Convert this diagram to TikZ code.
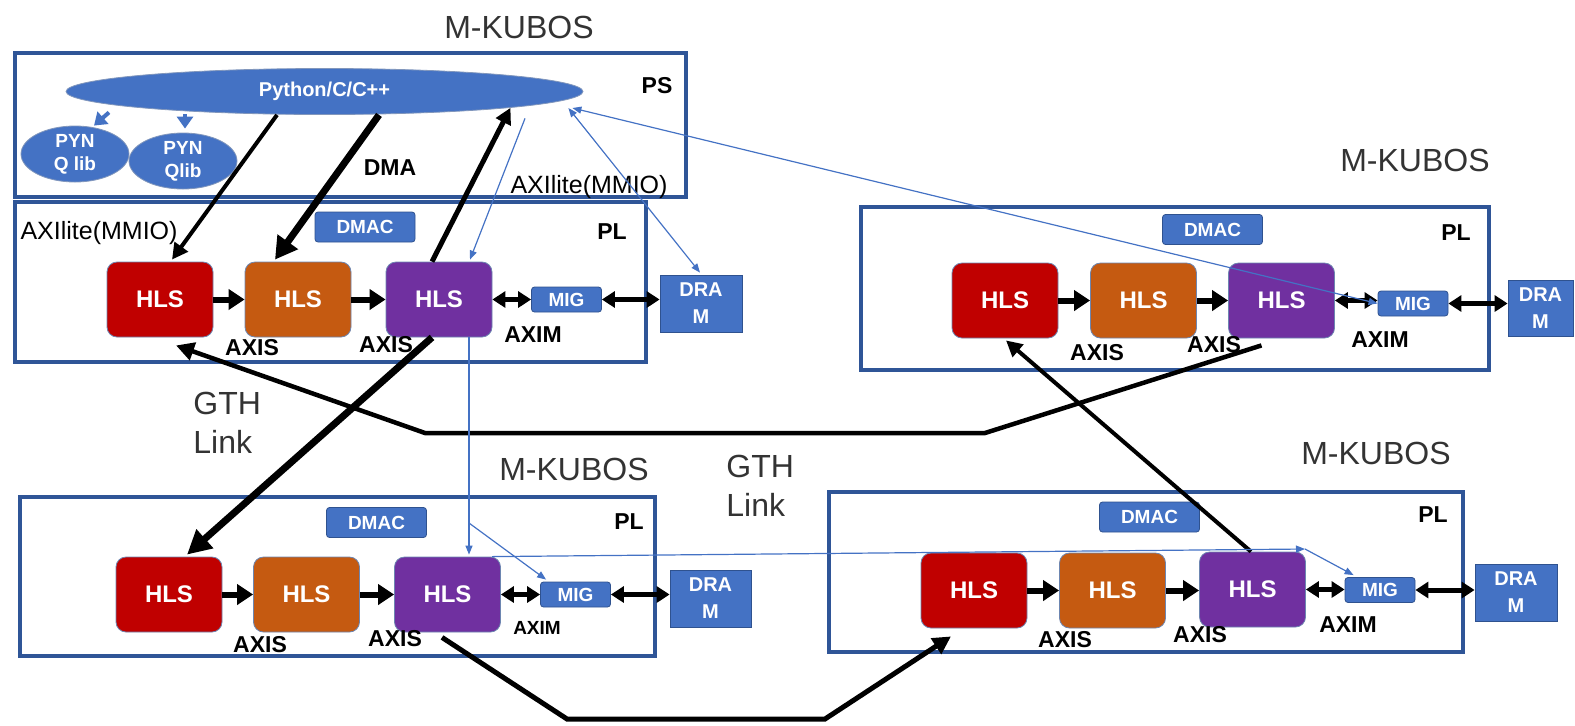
\documentclass[tikz,border=0pt]{standalone}
\usepackage{fontspec}
\setmainfont{Liberation Sans}
\usetikzlibrary{arrows.meta,shapes.geometric}

\definecolor{frameblue}{HTML}{2F5597}
\definecolor{pblue}{HTML}{4472C4}
\definecolor{edgeblue}{HTML}{2F528F}
\definecolor{hlsred}{HTML}{C00000}
\definecolor{hlsorange}{HTML}{C55A11}
\definecolor{hlspurple}{HTML}{7030A0}
\definecolor{titlegray}{HTML}{333333}

\newcommand{\fs}[1]{\fontsize{#1}{#1}\selectfont}

\tikzset{
  frame/.style={draw=frameblue, line width=1.6pt},
  hls/.style={rounded corners=5pt, draw=edgeblue!70, line width=0.4pt,
    minimum width=53pt, minimum height=37.5pt, inner sep=0pt,
    text=white, font=\bfseries\fs{12}},
  blk/.style={fill=pblue, draw=edgeblue, line width=0.4pt, rounded corners=1.5pt,
    inner sep=0pt, text=white, font=\bfseries\fs{9.5}},
  dmacbox/.style={blk, minimum width=50pt, minimum height=15pt},
  migbox/.style={blk, minimum width=35pt, minimum height=12.5pt},
  drambox/.style={blk, rounded corners=0pt, align=center, font=\bfseries\linespread{1.35}\fs{10}},
  lbl/.style={font=\bfseries\fs{11.5}, inner sep=0pt},
  mlbl/.style={font=\fs{12.5}, inner sep=0pt},
  title/.style={font=\fs{16}, text=titlegray, inner sep=0pt},
  chain/.style={line width=3pt, -{Triangle[length=8pt,width=10pt]}},
  dbl/.style={line width=2.5pt, {Triangle[length=6.5pt,width=8pt]}-{Triangle[length=6.5pt,width=8pt]}},
  thinblue/.style={draw=pblue, line width=0.6pt, -{Triangle[length=4.5pt,width=3.5pt]}},
  thinbluedbl/.style={draw=pblue, line width=0.6pt,
    {Triangle[length=4.5pt,width=3.5pt]}-{Triangle[length=4.5pt,width=3.5pt]}},
  pyarrow/.style={draw=pblue, line width=2pt, -{Triangle[length=6pt,width=8pt]}},
  lib/.style={ellipse, fill=pblue, draw=edgeblue!60, line width=0.4pt, inner sep=0pt,
    minimum width=54pt, minimum height=26pt, text=white, align=center,
    font=\bfseries\linespread{1.2}\fs{9.5}},
}

\begin{document}
\begin{tikzpicture}[x=0.5pt, y=-0.5pt]
\useasboundingbox (0,0) rectangle (1575,725);

% ---------- node 1: PS + PL ----------
\node[title] (t1) at (519,27) {M-KUBOS};
\draw[frame] (15,53) rectangle (686,197);
\draw[frame] (15,202) rectangle (646,362);

\node[ellipse, fill=pblue, draw=edgeblue!60, line width=0.4pt, inner sep=0pt,
      minimum width=258.5pt, minimum height=23pt, text=white, font=\bfseries\fs{10}]
      (py) at (324.5,91.5) {Python/C/C++};
\node[lib] (pq1) at (75,154) {PYN\\Q lib};
\node[lib] (pq2) at (183,161) {PYN\\Qlib};

\node[lbl] (ps) at (657,86) {PS};
\node[lbl] (dma) at (390,168) {DMA};
\node[mlbl] (axl1) at (589,187) {AXIlite(MMIO)};
\node[mlbl] (axl2) at (99,233) {AXIlite(MMIO)};
\node[lbl] (pl1) at (612,232) {PL};

\node[dmacbox] (dmac1) at (365,227) {DMAC};
\node[hls, fill=hlsred] (r1) at (160,299.5) {HLS};
\node[hls, fill=hlsorange] (o1) at (298,299.5) {HLS};
\node[hls, fill=hlspurple] (p1) at (439,299.5) {HLS};
\node[migbox] (m1) at (566.5,299.5) {MIG};
\node[drambox, minimum width=41pt, minimum height=28.5pt] (d1) at (701,303.5) {DRA\\M};
\node[lbl] (ax1a) at (252,348) {AXIS};
\node[lbl] (ax1b) at (386,345) {AXIS};
\node[lbl] (am1) at (533,335) {AXIM};

% ---------- node 2 ----------
\node[title] (t2) at (1415,160) {M-KUBOS};
\draw[frame] (861,207) rectangle (1489,370);
\node[dmacbox] (dmac2) at (1212.5,229.5) {DMAC};
\node[lbl] (pl2) at (1456,233) {PL};
\node[hls, fill=hlsred] (r2) at (1005,300.5) {HLS};
\node[hls, fill=hlsorange] (o2) at (1143.5,300.5) {HLS};
\node[hls, fill=hlspurple] (p2) at (1281.5,300.5) {HLS};
\node[migbox] (m2) at (1413,303.5) {MIG};
\node[drambox, minimum width=32.5pt, minimum height=28pt] (d2) at (1540.5,308) {DRA\\M};
\node[lbl] (ax2a) at (1097,353) {AXIS};
\node[lbl] (ax2b) at (1214,345) {AXIS};
\node[lbl] (am2) at (1380,340) {AXIM};

% ---------- node 3 ----------
\node[title] (t3) at (574,469) {M-KUBOS};
\draw[frame] (20,497) rectangle (655,656);
\node[dmacbox] (dmac3) at (376.5,522.5) {DMAC};
\node[lbl] (pl3) at (629,522) {PL};
\node[hls, fill=hlsred] (r3) at (169,594.5) {HLS};
\node[hls, fill=hlsorange] (o3) at (306.5,594.5) {HLS};
\node[hls, fill=hlspurple] (p3) at (447.5,594.5) {HLS};
\node[migbox] (m3) at (575.5,594.5) {MIG};
\node[drambox, minimum width=40.5pt, minimum height=28.5pt] (d3) at (710.5,598.5) {DRA\\M};
\node[lbl] (ax3a) at (260,645) {AXIS};
\node[lbl] (ax3b) at (395,639) {AXIS};
\node[lbl, font=\bfseries\fs{9.5}] (am3) at (537,628) {AXIM};

% ---------- node 4 ----------
\node[title] (t4) at (1376,453) {M-KUBOS};
\draw[frame] (829,492) rectangle (1463,652);
\node[dmacbox] (dmac4) at (1149.5,517) {DMAC};
\node[lbl] (pl4) at (1433,515) {PL};
\node[hls, fill=hlsred] (r4) at (974,590.5) {HLS};
\node[hls, fill=hlsorange] (o4) at (1112.5,590.5) {HLS};
\node[hls, fill=hlspurple] (p4) at (1252.5,589.5) {HLS};
\node[migbox] (m4) at (1380,590) {MIG};
\node[drambox, minimum width=41pt, minimum height=28.5pt] (d4) at (1516,592.5) {DRA\\M};
\node[lbl] (ax4a) at (1065,640) {AXIS};
\node[lbl] (ax4b) at (1200,635) {AXIS};
\node[lbl] (am4) at (1348,625) {AXIM};

% ---------- link labels ----------
\node[title, anchor=west, align=left, font=\linespread{1.2}\fs{16}] (gth1) at (193,423) {GTH\\Link};
\node[title, anchor=west, align=left, font=\linespread{1.2}\fs{16}] (gth2) at (726,486) {GTH\\Link};

% ---------- streaming chains ----------
\foreach \a/\b in {r1/o1,o1/p1,r2/o2,o2/p2,r3/o3,o3/p3,r4/o4,o4/p4}
  \draw[chain] (\a.east) -- (\a.east -| \b.west);
\foreach \a/\b in {p1/m1,m1/d1,p2/m2,m2/d2,p3/m3,m3/d3,p4/m4,m4/d4}
  \draw[dbl] (\a.east) -- (\a.east -| \b.west);

% ---------- PS side ----------
\draw[pyarrow] ([xshift=-107.75pt,yshift=1.25pt]py.south) -- ([xshift=9.5pt]pq1.north);
\draw[pyarrow] ([xshift=-69.75pt,yshift=0.25pt]py.south) -- ([xshift=1pt,yshift=2pt]pq2.north);

\draw[line width=2pt, -{Triangle[length=8pt,width=8pt]}]
  ([xshift=-23.75pt]py.south) -- ([xshift=6pt,yshift=1pt]r1.north);
\draw[line width=3.5pt, -{Triangle[length=11pt,width=12pt]}]
  ([xshift=27.25pt]py.south) -- ([xshift=-11.5pt,yshift=1pt]o1.north);
\draw[line width=2.5pt, -{Triangle[length=8pt,width=8pt]}]
  ([xshift=-3.5pt]p1.north) -- (py.-5.9);
\draw[thinblue] ([xshift=100.25pt,yshift=-1.75pt]py.south) -- ([xshift=15.5pt,yshift=1pt]p1.north);
\draw[thinbluedbl] ([xshift=-7.5pt,yshift=-8.25pt]py.east) -- ([xshift=-0.5pt,yshift=1pt]d1.north);
\draw[thinbluedbl] ([xshift=-5.5pt,yshift=-8.25pt]py.east) -- (m2.west);

% ---------- GTH links ----------
\coordinate (c2a) at (985,433);
\coordinate (c2b) at (425,433);
\coordinate (c3a) at (567,719);
\coordinate (c3b) at (825,719);

\draw[line width=3.5pt, -{Triangle[length=12pt,width=12pt]}]
  ([xshift=-3.5pt]p1.south) -- ([xshift=9pt,yshift=1pt]r3.north);
\draw[line width=2.25pt, -{Triangle[length=9pt,width=9pt]}]
  ([xshift=-10pt,yshift=-3.5pt]p2.south) -- (c2a) -- (c2b) -- ([xshift=8pt,yshift=-4pt]r1.south);
\draw[line width=2.5pt, -{Triangle[length=9pt,width=9pt]}]
  ([xshift=-2.75pt,yshift=-2.5pt]p3.south) -- (c3a) -- (c3b) -- ([xshift=-11.5pt,yshift=-4pt]r4.south);
\draw[line width=2pt, -{Triangle[length=8pt,width=8pt]}]
  ([xshift=-0.75pt]p4.north) -- ([xshift=0.5pt,yshift=-1pt]r2.south);

% ---------- control paths ----------
\coordinate (j1) at (469,523);
\coordinate (j2) at (1305,549);
\draw[thinblue] ([xshift=15pt]p1.south) -- ([xshift=10.75pt,yshift=1pt]p3.north);
\draw[thinblue] (j1) -- ([xshift=3pt,yshift=1pt]m3.north west);
\draw[thinblue] ([xshift=-4.5pt]p3.north east) -- (j2);
\draw[thinblue] (j2) -- ([xshift=4.5pt,yshift=1pt]m4.north west);
\end{tikzpicture}
\end{document}
